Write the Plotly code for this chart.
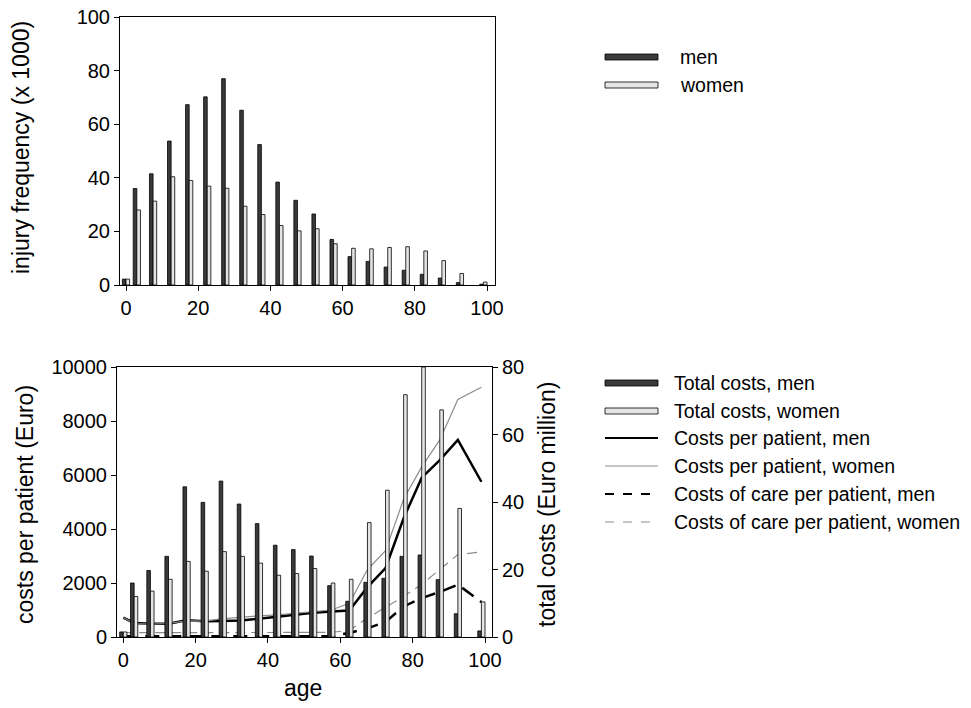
import plotly.graph_objects as go

W, H = 971, 708
FONT = "Liberation Sans, Arial, sans-serif"

# ---------------- data ----------------
age = [0, 3, 7.5, 12.5, 17.5, 22.5, 27.5, 32.5, 37.5, 42.5, 47.5,
       52.5, 57.5, 62.5, 67.5, 72.5, 77.5, 82.5, 87.5, 92.5, 99]

injury_men = [2.2, 36, 41.5, 53.7, 67.3, 70.2, 77, 65.2, 52.4, 38.4, 31.6,
              26.5, 17, 10.6, 8.8, 6.7, 5.5, 4, 2.6, 0.9, 0.3]
injury_women = [2.2, 28, 31.3, 40.4, 39, 36.9, 36.1, 29.4, 26.3, 22.2, 20.2,
                21, 15.4, 13.7, 13.5, 14, 14.3, 12.7, 9.1, 4.3, 1.1]

total_men = [1.5, 16, 19.7, 23.9, 44.5, 39.9, 46.2, 39.4, 33.6, 27.2, 25.9,
             24, 15.2, 10.6, 16.2, 17.4, 23.9, 24.3, 17, 6.9, 1.8]
total_women = [1.5, 12, 13.6, 17.1, 22.4, 19.5, 25.3, 23.9, 21.9, 18.3, 18.8,
               20.3, 16, 17.1, 33.9, 43.5, 71.8, 80, 67.3, 38.1, 10.4]

cpp_men = [720, 520, 490, 490, 620, 580, 590, 610, 680, 750, 840,
           900, 940, 980, 1850, 2550, 4400, 5900, 6550, 7300, 5750]
cpp_women = [720, 500, 480, 500, 600, 590, 680, 740, 780, 820, 880,
             950, 1000, 1250, 2500, 3200, 5100, 6300, 7300, 8800, 9250]
care_men = [30, 30, 30, 30, 30, 30, 30, 30, 30, 30, 30,
            30, 30, 150, 320, 560, 1130, 1440, 1670, 1940, 1300]
care_women = [160, 160, 160, 160, 160, 160, 160, 160, 160, 160, 160,
              160, 170, 250, 700, 1100, 1500, 1950, 2500, 3050, 3150]

x_ticks = [0, 20, 40, 60, 80, 100]

top_labels = ["men", "women"]
bottom_labels = ["Total costs, men", "Total costs, women",
                 "Costs per patient, men", "Costs per patient, women",
                 "Costs of care per patient, men", "Costs of care per patient, women"]

# ---------------- styles ----------------
MEN_FILL = "#3a3a3a"
WOMEN_FILL = "#e4e4e4"
BAR_W = 1.0
BAR_LINE = dict(color="black", width=0.8)

fig = go.Figure()

# top chart bars
fig.add_trace(go.Bar(x=age, y=injury_men, name=top_labels[0], width=BAR_W, offset=-BAR_W,
                     marker=dict(color=MEN_FILL, line=BAR_LINE),
                     xaxis="x", yaxis="y", showlegend=False))
fig.add_trace(go.Bar(x=age, y=injury_women, name=top_labels[1], width=BAR_W, offset=0,
                     marker=dict(color=WOMEN_FILL, line=BAR_LINE),
                     xaxis="x", yaxis="y", showlegend=False))

# bottom chart bars (right axis)
fig.add_trace(go.Bar(x=age, y=total_men, name=bottom_labels[0], width=BAR_W, offset=-BAR_W,
                     marker=dict(color=MEN_FILL, line=BAR_LINE),
                     xaxis="x2", yaxis="y4", showlegend=False))
fig.add_trace(go.Bar(x=age, y=total_women, name=bottom_labels[1], width=BAR_W, offset=0,
                     marker=dict(color=WOMEN_FILL, line=BAR_LINE),
                     xaxis="x2", yaxis="y4", showlegend=False))

# bottom chart lines (left axis)
fig.add_trace(go.Scatter(x=age, y=cpp_men, name=bottom_labels[2], mode="lines",
                         line=dict(color="black", width=2.5), xaxis="x2", yaxis="y3", showlegend=False))
fig.add_trace(go.Scatter(x=age, y=cpp_women, name=bottom_labels[3], mode="lines",
                         line=dict(color="#8c8c8c", width=1.2), xaxis="x2", yaxis="y3", showlegend=False))
fig.add_trace(go.Scatter(x=age, y=care_men, name=bottom_labels[4], mode="lines",
                         line=dict(color="black", width=2.5, dash="14px,8px"), xaxis="x2", yaxis="y3", showlegend=False))
fig.add_trace(go.Scatter(x=age, y=care_women, name=bottom_labels[5], mode="lines",
                         line=dict(color="#8c8c8c", width=1.2, dash="10px,6px"), xaxis="x2", yaxis="y3", showlegend=False))


def px_x(p):
    return p / W


def px_y(p):
    return 1 - p / H


tickfont = dict(family=FONT, size=20, color="black")
axis_common = dict(showgrid=False, zeroline=False, showline=True, linecolor="black", linewidth=1,
                   ticks="outside", ticklen=5, tickcolor="black", tickfont=tickfont,
                   automargin=False, tickformat="d")

# plot areas (page pixels)
top_x0, top_x1, top_zero, top_ppu = 120, 495, 126, 3.61
bot_x0, bot_x1, bot_zero, bot_ppu = 117, 492, 123.3, 3.617

fig.update_layout(
    width=W, height=H,
    margin=dict(l=0, r=0, t=0, b=0),
    paper_bgcolor="white", plot_bgcolor="white",
    font=dict(family=FONT, color="black"),
    barmode="overlay",
    xaxis=dict(domain=[px_x(top_x0), px_x(top_x1)], anchor="y",
               range=[(top_x0 - top_zero) / top_ppu, (top_x1 - top_zero) / top_ppu],
               tickvals=x_ticks, mirror=True, **axis_common),
    yaxis=dict(domain=[px_y(285), px_y(17)], anchor="x", range=[0, 100],
               tickvals=[0, 20, 40, 60, 80, 100], mirror=True, **axis_common),
    xaxis2=dict(domain=[px_x(bot_x0), px_x(bot_x1)], anchor="y3",
                range=[(bot_x0 - bot_zero) / bot_ppu, (bot_x1 - bot_zero) / bot_ppu],
                tickvals=x_ticks, mirror=True, **axis_common),
    yaxis3=dict(domain=[px_y(637), px_y(367)], anchor="x2", range=[0, 10000],
                tickvals=[0, 2000, 4000, 6000, 8000, 10000], **axis_common),
    yaxis4=dict(overlaying="y3", side="right", anchor="x2", range=[0, 80],
                tickvals=[0, 20, 40, 60, 80], **axis_common),
)

annotations = [
    dict(text="injury frequency (x 1000)", x=px_x(21), y=px_y(148), textangle=-90),
    dict(text="costs per patient (Euro)", x=px_x(25), y=px_y(505), textangle=-90),
    dict(text="total costs (Euro million)", x=px_x(547), y=px_y(505), textangle=-90),
    dict(text="age", x=px_x(303), y=px_y(688), textangle=0),
]
anns = []
for a in annotations:
    anns.append(dict(xref="paper", yref="paper", showarrow=False,
                     xanchor="center", yanchor="middle",
                     font=dict(family=FONT, size=23, color="black"), **a))

# ---------------- manual legends ----------------
shapes = []
SW_X0, SW_X1, TXT_X = 605, 658, 672


def add_rect(yc, fill):
    shapes.append(dict(type="rect", xref="paper", yref="paper",
                       x0=px_x(SW_X0), x1=px_x(SW_X1), y0=px_y(yc + 3), y1=px_y(yc - 3),
                       fillcolor=fill, line=dict(color="black", width=0.8)))


def add_line(yc, color, width, dash):
    shapes.append(dict(type="line", xref="paper", yref="paper",
                       x0=px_x(SW_X0), x1=px_x(SW_X1), y0=px_y(yc), y1=px_y(yc),
                       line=dict(color=color, width=width, dash=dash)))


def add_text(yc, txt, x):
    anns.append(dict(xref="paper", yref="paper", showarrow=False, x=px_x(x), y=px_y(yc),
                     xanchor="left", yanchor="middle", text=txt,
                     font=dict(family=FONT, size=19.5, color="black")))


top_rows = [57, 85]
add_rect(top_rows[0], MEN_FILL)
add_rect(top_rows[1], WOMEN_FILL)
for yc, t in zip(top_rows, top_labels):
    add_text(yc, t, 678)

bot_rows = [383, 411, 438, 466, 494, 522]
add_rect(bot_rows[0], MEN_FILL)
add_rect(bot_rows[1], WOMEN_FILL)
add_line(bot_rows[2], "black", 2, "solid")
add_line(bot_rows[3], "#8c8c8c", 1.2, "solid")
add_line(bot_rows[4], "black", 2, "dash")
add_line(bot_rows[5], "#8c8c8c", 1.2, "dash")
for yc, t in zip(bot_rows, bottom_labels):
    add_text(yc, t, TXT_X)

fig.update_layout(annotations=anns, shapes=shapes)

# remove the default 8px page margin so the figure fills the 971x708 window exactly
fig.write_html("out.html",
               config={"displayModeBar": False},
               post_script="document.body.style.margin='0px';document.body.style.overflow='hidden';")
